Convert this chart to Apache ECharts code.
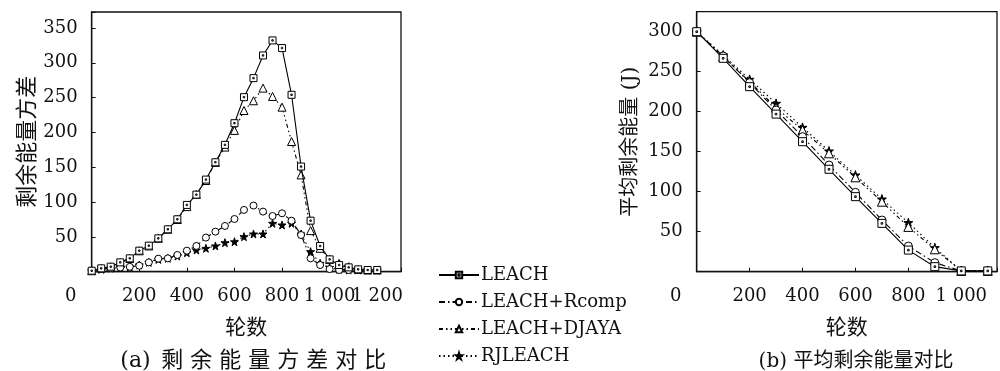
<!DOCTYPE html>
<html><head><meta charset="utf-8">
<script src="https://cdn.jsdelivr.net/npm/echarts@6/dist/echarts.min.js"></script>
<style>html,body{margin:0;padding:0;background:#fff}#c{width:1000px;height:371px}</style>
</head><body><div id="c"></div>
<script>
const seriesNames = ['LEACH', 'LEACH+Rcomp', 'LEACH+DJAYA', 'RJLEACH'];

// (a) variance of residual energy, rounds every 40
const roundsA = [0,40,80,120,160,200,240,280,320,360,400,440,480,520,560,600,640,680,720,760,800,840,880,920,960,1000,1040,1080,1120,1160,1200];
const leachA = [1.4,4.8,7.2,13.4,19.2,30.2,37.4,47.9,60.9,75.3,95.9,110.7,132.3,157.2,182.2,213.3,250.7,278.0,310.6,332.2,321.2,254.1,151.0,73.3,36.9,17.7,9.6,6.2,3.4,2.4,2.4];
const rcompA = [1.4,4,5,6,7,8.6,13.4,18.7,19.2,24,30.2,37,49,57.5,65.7,75.7,88.7,95,86.3,80,83.9,73.3,52.7,19.2,9.6,3.8,2.4,2.4,2.4,2.4,2.4];
const djayaA = [1.4,5,7,13,19,30,37,48,61,75,93.5,111,131,157,179,203,231.5,245.5,263.7,251.7,236.3,187,139,59,33.6,17.7,12,7.2,3.4,2.4,2.4];
const rjA = [1.4,3.4,5,5.8,6.7,9.6,13.4,17.7,19.2,22.5,27.3,31.2,33.6,37,41.7,43,50.3,54.2,54.2,69.5,67.1,69.5,54.2,28.8,12,6.2,3.4,2.4,2.4,2.4,2.4];

// (b) average residual energy (J), rounds every 100
const roundsB = [0,100,200,300,400,500,600,700,800,900,1000,1100];
const leachB = [300,266.7,231.3,197,162.5,128,93.8,60.4,27,6.3,1,1];
const rcompB = [300,269.6,236.3,202,168.8,133.3,99.2,64.6,32,11.3,1,1];
const djayaB = [300,268.8,237.5,205,177,148,118,87.5,56,28,1,1];
const rjB = [300,270.8,240.4,210.4,180.4,150.8,120.8,90.8,61.3,30,1,1];

const xTicksA = [0,200,400,600,800,1000,1200];
const yTicksA = [50,100,150,200,250,300,350];
const xTicksB = [0,200,400,600,800,1000];
const yTicksB = [50,100,150,200,250,300];

const captionA = ['(a)', '剩余能量方差对比'];
const captionB = ['(b)', '平均剩余能量对比'];

const NUMF = "'DejaVu Serif','Noto Sans CJK SC',serif";
const CJKF = "'DejaVu Serif','Noto Sans CJK SC',sans-serif";
const STAR = 'path://M50,0 L61,35 L98,35 L68,57 L79,91 L50,70 L21,91 L32,57 L2,35 L39,35 Z';
const BOXDOT = 'path://M0,0 L10,0 L10,10 L0,10 Z M4,4 L6,4 L6,6 L4,6 Z';

function fmtNum(v) { return String(v).replace(/\B(?=(\d{3})+(?!\d))/g, ' '); }
function xFmt(ticks) {
  return function (v) {
    if (ticks.indexOf(v) < 0) return '';
    if (v === 0) return '{z|0}';
    return fmtNum(v);
  };
}
function yFmt(ticks) {
  return function (v) { return ticks.indexOf(v) < 0 ? '' : fmtNum(v); };
}

const styles = [
  { symbol: BOXDOT, size: 7, fill: '#fff', line: 'solid' },
  { symbol: 'circle', size: 7, fill: '#fff', line: [6, 3, 1.5, 3] },
  { symbol: 'triangle', size: 8, fill: '#fff', line: [4, 3, 1.5, 3, 1.5, 3] },
  { symbol: STAR, size: 8, fill: '#000', line: [1.5, 3] }
];

function mkSeries(idx, xs, ys, gi) {
  const s = styles[idx];
  return {
    name: seriesNames[idx], type: 'line', xAxisIndex: gi, yAxisIndex: gi,
    data: xs.map((x, i) => [x, ys[i]]),
    symbol: s.symbol, symbolSize: gi === 1 ? s.size + 1 : s.size, showAllSymbol: true,
    lineStyle: { color: '#000', width: 1.1, type: s.line },
    itemStyle: { color: s.fill, borderColor: '#000', borderWidth: 1 },
    z: 10 - idx, animation: false
  };
}

function xAxis(gi, max, ticks, name) {
  return {
    type: 'value', gridIndex: gi, min: 0, max: max, interval: 200,
    name: name, nameLocation: 'middle', nameGap: 46,
    nameTextStyle: { fontFamily: CJKF, fontSize: 21, color: '#111' },
    axisLine: { show: true, lineStyle: { color: '#111', width: 1.3 } },
    axisTick: { show: true, inside: true, length: 4, lineStyle: { color: '#111', width: 1 } },
    axisLabel: { formatter: xFmt(ticks), margin: 16, fontFamily: NUMF, fontSize: 18, color: '#111',
      rich: { z: { fontFamily: NUMF, fontSize: 18, color: '#111', padding: [0, 42, 0, 0] } } },
    splitLine: { show: false }
  };
}
function yAxis(gi, max, ticks, name, gap, fs) {
  return {
    type: 'value', gridIndex: gi, min: 0, max: max, interval: 50,
    name: name, nameLocation: 'middle', nameRotate: 90, nameGap: gap,
    nameTextStyle: { fontFamily: CJKF, fontSize: fs, color: '#111' },
    axisLine: { show: true, lineStyle: { color: '#111', width: 1.3 } },
    axisTick: { show: true, inside: true, length: 4, lineStyle: { color: '#111', width: 1 } },
    axisLabel: { formatter: yFmt(ticks), margin: 14, fontFamily: NUMF, fontSize: 18, color: '#111' },
    splitLine: { show: false }
  };
}

function spaced(parts) {
  return parts[0] + ' ' + parts[1].split('').map(c => '{c|' + c + '}').join('');
}

const chart = echarts.init(document.getElementById('c'), null, { renderer: 'canvas' });
chart.setOption({
  backgroundColor: '#fff',
  animation: false,
  grid: [
    { left: 91.7, top: 12, width: 309.3, height: 259.7, show: true, borderColor: '#111', borderWidth: 1.3, backgroundColor: 'transparent' },
    { left: 696.7, top: 11.7, width: 306.3, height: 260, show: true, borderColor: '#111', borderWidth: 1.3, backgroundColor: 'transparent' }
  ],
  xAxis: [xAxis(0, 1300, xTicksA, '轮数'), xAxis(1, 1135, xTicksB, '轮数')],
  yAxis: [yAxis(0, 373, yTicksA, '剩余能量方差', 52, 22), yAxis(1, 325, yTicksB, '平均剩余能量 (J)', 56, 20)],
  title: [
    { text: spaced(captionA), left: 250, top: 345, textAlign: 'center',
      textStyle: { fontFamily: CJKF, fontSize: 22, fontWeight: 'normal', color: '#111',
        rich: { c: { fontFamily: CJKF, fontSize: 22, color: '#111', padding: [0, 3.5, 0, 3.5] } } } },
    { text: captionB.join(' '), left: 851, top: 347, textAlign: 'center',
      textStyle: { fontFamily: CJKF, fontSize: 20, fontWeight: 'normal', color: '#111' } }
  ],
  legend: {
    orient: 'vertical', left: 433, top: 260, itemWidth: 40, itemHeight: 8, itemGap: 7,
    data: seriesNames,
    textStyle: { fontFamily: NUMF, fontSize: 18, color: '#111', lineHeight: 20, padding: [0, 0, 0, -3] }
  },
  series: [
    mkSeries(0, roundsA, leachA, 0), mkSeries(1, roundsA, rcompA, 0),
    mkSeries(2, roundsA, djayaA, 0), mkSeries(3, roundsA, rjA, 0),
    mkSeries(0, roundsB, leachB, 1), mkSeries(1, roundsB, rcompB, 1),
    mkSeries(2, roundsB, djayaB, 1), mkSeries(3, roundsB, rjB, 1)
  ]
});
</script>
</body></html>
